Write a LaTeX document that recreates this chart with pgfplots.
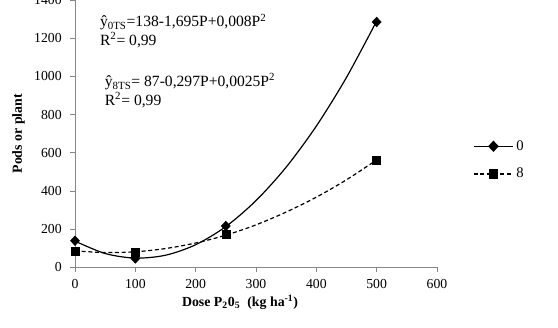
\documentclass[border=0pt]{standalone}
\usepackage{pgfplots}
\pgfplotsset{compat=1.18}
\usepackage{fontspec}
\setmainfont{Liberation Serif}

% fitted quadratic curves
\pgfplotstableread{
P   y0     y8
0   138    87
50  73     78
100 49     82
150 64     99
200 119    128
250 214    169
300 350    223
350 525    290
400 740    368
450 995    459
500 1290   563
}\fitcurves

\begin{document}
\begin{tikzpicture}[x=1pt,y=1pt]
\begin{axis}[
  at={(0,0)}, anchor=south west,
  scale only axis,
  width=271.5pt, height=200.6pt,
  xmin=0, xmax=600, ymin=0, ymax=1400,
  xtick={0,100,...,600}, ytick={0,200,...,1400},
  axis x line*=bottom, axis y line*=left,
  axis line style={draw=black!47, line width=0.6pt},
  tick style={draw=black!47, line width=0.6pt},
  tick align=outside,
  major tick length=3.5pt,
  /pgf/number format/assume math mode=true,
  /pgf/number format/1000 sep={},
  ticklabel style={font=\fontsize{10.3}{12}\selectfont, text=black},
  xticklabel style={yshift=-2pt},
  yticklabel style={xshift=-3pt},
  xlabel={Dose P\textsubscript{2}0\textsubscript{5}\ \ (kg ha\textsuperscript{-1})},
  ylabel={Pods or plant},
  label style={font=\fontsize{10.4}{12}\selectfont\bfseries},
  xlabel style={at={(axis description cs:0.456,-0.129)}, anchor=center},
  ylabel style={at={(axis description cs:-0.156,0.5)}, anchor=center, rotate=0},
  legend style={draw=none, at={(1.088,0.496)}, anchor=north west,
    font=\fontsize{11}{12}\selectfont, row sep=8pt,
    legend cell align=left},
  legend image code/.code={%
    \draw[mark repeat=2,mark phase=2,#1]
      plot coordinates {(0cm,0cm)(0.52cm,0cm)(1.04cm,0cm)};},
  clip=false,
]
% trend curves
\addplot[black, line width=0.9pt, smooth, forget plot] table[x=P, y=y0] {\fitcurves};
\addplot[black, line width=0.9pt, smooth, dash pattern=on 3pt off 2pt, forget plot] table[x=P, y=y8] {\fitcurves};
% observed means
\addplot[only marks, mark=diamond*, mark size=3.6pt, mark options={xscale=1.25, fill=black}, forget plot]
  coordinates {(0,140) (100,47) (250,217) (500,1285)};
\addplot[only marks, mark=square*, mark size=3pt, mark options={fill=black}, forget plot]
  coordinates {(0,86) (100,81) (250,172) (500,560)};

\addlegendimage{black, line width=0.9pt, mark=diamond*, mark options={solid, mark size=3.6pt, xscale=1.25}}
\addlegendentry{0}
\addlegendimage{black, line width=0.9pt, dash pattern=on 3pt off 2pt, mark=square*, mark options={solid, mark size=3pt}}
\addlegendentry{8}

% regression equations
\node[anchor=west, inner sep=0pt, font=\fontsize{11.7}{13}\selectfont] at (axis cs:41,1284)
  {\^y\textsubscript{0TS}=138-1,695P+0,008P\textsuperscript{2}};
\node[anchor=west, inner sep=0pt, font=\fontsize{11.7}{13}\selectfont] at (axis cs:41,1189)
  {R\textsuperscript{2}= 0,99};
\node[anchor=west, inner sep=0pt, font=\fontsize{11.7}{13}\selectfont] at (axis cs:49,971)
  {\^y\textsubscript{8TS}= 87-0,297P+0,0025P\textsuperscript{2}};
\node[anchor=west, inner sep=0pt, font=\fontsize{11.7}{13}\selectfont] at (axis cs:49,875)
  {R\textsuperscript{2}= 0,99};
\end{axis}
\pgfresetboundingbox
\useasboundingbox (-56.25pt,-45.4pt) rectangle (362.25pt,200.6pt);
\end{tikzpicture}
\end{document}
